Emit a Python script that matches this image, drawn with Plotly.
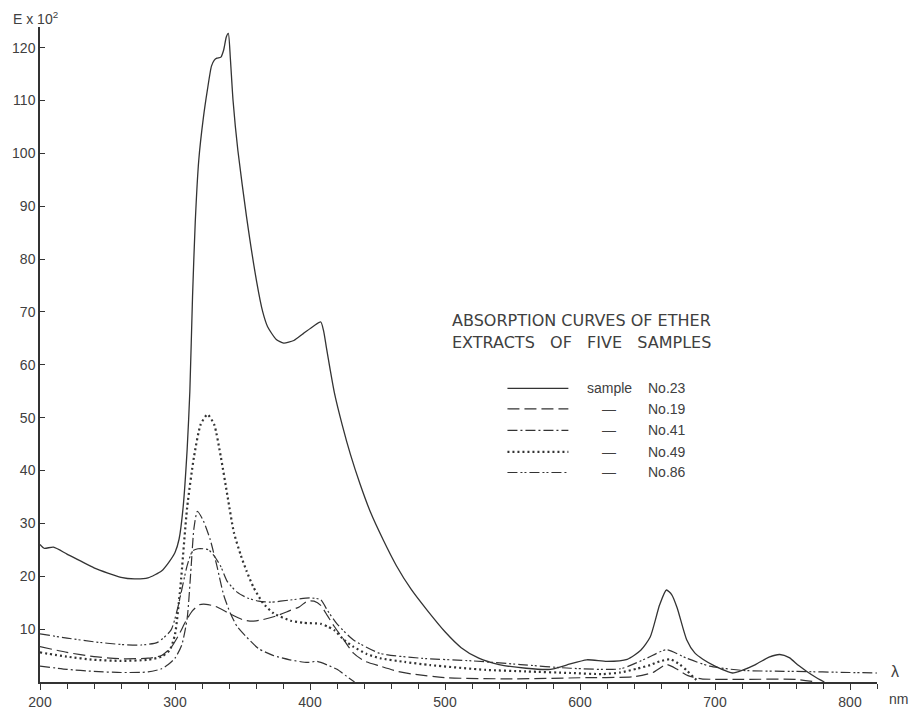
import plotly.graph_objects as go

# ---------------- data (wavelength nm, E x 10^2) ----------------
nm_23 = [200, 203, 210, 220, 240, 260, 270, 280, 290, 295, 300, 303, 306, 309, 311, 313, 315, 317.6,
         321, 324, 327, 329, 331, 334, 336, 338, 339.5, 341, 343, 346.6, 353, 360.5, 365, 368.6, 375,
         380.5, 388, 395, 403, 408, 410, 412, 415, 418, 424, 430, 437, 445, 454, 464, 475, 487, 500,
         512, 525, 540, 560, 578, 590, 605, 620, 635, 645, 652, 659, 664, 668, 672, 679, 685,
         691, 700, 709, 713, 720, 730, 740, 748, 755, 762, 768, 774, 778, 781]
e_23 = [26, 25.3, 25.5, 24.2, 21.6, 19.8, 19.5, 19.7, 21, 22.5, 24.5, 27, 33, 44, 55, 73, 87, 98.7,
        106.7, 112, 116.5, 117.6, 118, 118.2, 119.5, 122, 122.7, 118, 110, 100.5, 88, 75.7, 70, 67.2, 64.8,
        64.1, 64.6, 65.9, 67.4, 68.1, 66.5, 63.5, 59, 54.8, 48.5, 43, 37.5, 32, 27, 22, 17.5, 13.5, 9.5,
        6.5, 4.5, 3.3, 2.6, 2.4, 3.2, 4.2, 3.9, 4.3, 6, 8.5, 14.6, 17.4, 16.5, 14, 8, 5.5,
        4.3, 3, 2, 1.7, 2.2, 3.3, 4.7, 5.2, 4.6, 3.1, 2, 1, 0.4, 0]

nm_19 = [200, 220, 240, 260, 280, 290, 297, 303, 308, 313, 318, 323, 330, 340, 350, 357, 365, 375,
         385, 392, 398, 403, 408, 413, 418, 425, 432, 440, 452, 465, 476, 502, 550, 600, 640, 654,
         664, 672, 680, 690, 720, 760, 775]
e_19 = [6.7, 5.6, 4.8, 4.4, 4.5, 5, 6.5, 9, 11.5, 13.5, 14.6, 14.7, 14.3, 13, 11.8, 11.5, 11.8, 12.5,
        13.5, 14.2, 15.3, 15.3, 14.5, 12.5, 10.5, 8, 5.5, 4, 3, 2, 1.5, 0.8, 0.6, 0.8, 1.0, 1.8,
        3.3, 2.4, 1.2, 0.6, 0.5, 0.5, 0]

nm_41 = [200, 220, 240, 260, 280, 290, 295, 300, 305, 309, 312, 314, 316.6, 321, 326, 331, 336, 341,
         346, 353, 362, 373, 385, 398, 405, 413, 420, 427, 433]
e_41 = [3.0, 2.4, 2.0, 1.8, 1.9, 2.5, 3.3, 4.5, 7, 12, 22, 29, 32.3, 30.5, 27, 22, 16.5, 13,
        10.5, 8.5, 6.3, 5, 4.2, 3.7, 3.9, 3.2, 2.4, 1.1, 0]

nm_49 = [200, 220, 240, 260, 280, 290, 296, 300, 304, 309, 314, 319, 324, 329, 334, 339, 343.6, 348.7,
         353, 358, 365, 373, 385.7, 395, 408, 413, 418, 425, 432, 442, 452, 470, 489, 530, 560, 593,
         617, 630, 642, 652, 659, 667, 674, 679, 684, 688]
e_49 = [5.6, 4.8, 4.2, 4.0, 4.2, 4.8, 6, 9, 18, 33, 42.5, 48.7, 50.6, 48.7, 42.5, 35, 28.3, 24,
        21, 18, 15, 13, 11.6, 11.2, 11, 10.5, 9.8, 8, 6.7, 5.3, 4.5, 3.8, 3.2, 2.3, 2.0, 1.7,
        1.5, 1.8, 2.5, 3.2, 3.9, 4.3, 3.3, 2.2, 0.9, 0]

nm_86 = [200, 220, 240, 260, 275, 287, 297, 302, 309, 313, 317, 321, 325, 330, 334, 338.8, 346, 353.6,
         362, 370.9, 385, 400, 407.8, 413, 420, 432, 452, 482, 520, 556, 593, 630, 649.5, 664, 679,
         696, 720, 760, 800, 820]
e_86 = [9.1, 8.3, 7.6, 7.1, 7.0, 7.5, 9.8, 14, 22, 24.8, 25.2, 25.2, 25, 23.5, 21.8, 19, 17, 15.9,
        15.3, 15.1, 15.5, 15.9, 15.6, 13.5, 11, 8, 5.4, 4.5, 4.0, 3.3, 2.6, 2.5, 4.5, 6.1, 4.5,
        3, 2.2, 2.0, 1.8, 1.7]

x_ticks = [200, 300, 400, 500, 600, 700, 800]
y_ticks = [10, 20, 30, 40, 50, 60, 70, 80, 90, 100, 110, 120]

legend_labels = ["No.23", "No.19", "No.41", "No.49", "No.86"]

# ---------------- styling ----------------
INK = "#333333"
TXT = "#404040"
FONT = "Liberation Sans"
dash_19 = "12px,5px"
dash_41 = "10px,3px,2px,3px"
dash_49 = "2px,3px"
dash_86 = "10px,3px,2px,2px,2px,3px"

series = [
    (nm_23, e_23, "solid", 1.3),
    (nm_19, e_19, dash_19, 1.2),
    (nm_41, e_41, dash_41, 1.2),
    (nm_49, e_49, dash_49, 2.2),
    (nm_86, e_86, dash_86, 1.2),
]

fig = go.Figure()
for (xs, ys, dash, w), name in zip(series, legend_labels):
    fig.add_trace(go.Scatter(
        x=xs, y=ys, mode="lines", name=name,
        line=dict(color=INK, width=w, dash=dash, shape="spline", smoothing=0.6),
        hoverinfo="x+y+name",
    ))

# plot area geometry in pixels
L, R, T, B = 39, 36, 27, 26
W, H = 913, 722
pw, ph = W - L - R, H - T - B


def px(xpix):
    return (xpix - L) / pw


def py(ypix):
    return (H - B - ypix) / ph


annotations = []
shapes = []

# y-axis unit label
annotations.append(dict(text="E x 10<sup>2</sup>", x=px(10), y=py(18), xref="paper", yref="paper",
                        xanchor="left", yanchor="middle", showarrow=False,
                        font=dict(family=FONT, size=14, color=TXT)))
# lambda and nm
annotations.append(dict(text="λ", x=px(895), y=py(685), xref="paper", yref="paper",
                        xanchor="center", yanchor="middle", showarrow=False,
                        font=dict(family=FONT, size=16, color=TXT)))
annotations.append(dict(text="nm", x=px(899), y=py(713), xref="paper", yref="paper",
                        xanchor="center", yanchor="middle", showarrow=False,
                        font=dict(family=FONT, size=14, color=TXT)))

# title block
annotations.append(dict(text="ABSORPTION CURVES OF ETHER", x=px(449), y=py(327), xref="paper", yref="paper",
                        xanchor="left", yanchor="middle", showarrow=False,
                        font=dict(family="DejaVu Sans", size=16, color=TXT)))
annotations.append(dict(text="EXTRACTS\u00a0\u00a0\u00a0OF\u00a0\u00a0\u00a0FIVE\u00a0\u00a0\u00a0SAMPLES",
                        x=px(449), y=py(349), xref="paper", yref="paper",
                        xanchor="left", yanchor="middle", showarrow=False,
                        font=dict(family="DejaVu Sans", size=16, color=TXT)))

# custom legend
row_y = [396, 417, 439, 461, 482]
for i, ((xs, ys, dash, w), lab) in enumerate(zip(series, legend_labels)):
    yy = py(row_y[i])
    shapes.append(dict(type="line", xref="paper", yref="paper", x0=px(507), x1=px(568), y0=yy, y1=yy,
                       line=dict(color=INK, width=w, dash=dash)))
    mid = "sample" if i == 0 else "—"
    annotations.append(dict(text=mid, x=px(609), y=yy, xref="paper", yref="paper",
                            xanchor="center", yanchor="middle", showarrow=False,
                            font=dict(family=FONT, size=14, color=TXT)))
    annotations.append(dict(text=lab, x=px(646), y=yy, xref="paper", yref="paper",
                            xanchor="left", yanchor="middle", showarrow=False,
                            font=dict(family=FONT, size=14, color=TXT)))

fig.update_layout(
    width=W, height=H,
    margin=dict(l=L, r=R, t=T, b=B),
    plot_bgcolor="white", paper_bgcolor="white",
    showlegend=False,
    annotations=annotations,
    shapes=shapes,
    xaxis=dict(range=[200, 820], showgrid=False, zeroline=False, showline=True,
               linecolor=INK, linewidth=1.5, tickmode="array", tickvals=x_ticks,
               ticktext=[str(v) for v in x_ticks],
               ticks="outside", ticklen=6, tickwidth=1.2, tickcolor=INK,
               tickfont=dict(family=FONT, size=14, color=TXT),
               minor=dict(tickmode="linear", tick0=200, dtick=20, ticks="outside",
                          ticklen=5, tickwidth=1.1, tickcolor=INK, showgrid=False)),
    yaxis=dict(range=[0, 123.9], showgrid=False, zeroline=False, showline=True,
               linecolor=INK, linewidth=1.5, tickmode="array", tickvals=y_ticks,
               ticktext=[str(v) for v in y_ticks],
               ticks="inside", ticklen=5, tickwidth=1.2, tickcolor=INK,
               tickfont=dict(family=FONT, size=14, color=TXT)),
)

fig.write_html("out.html")
